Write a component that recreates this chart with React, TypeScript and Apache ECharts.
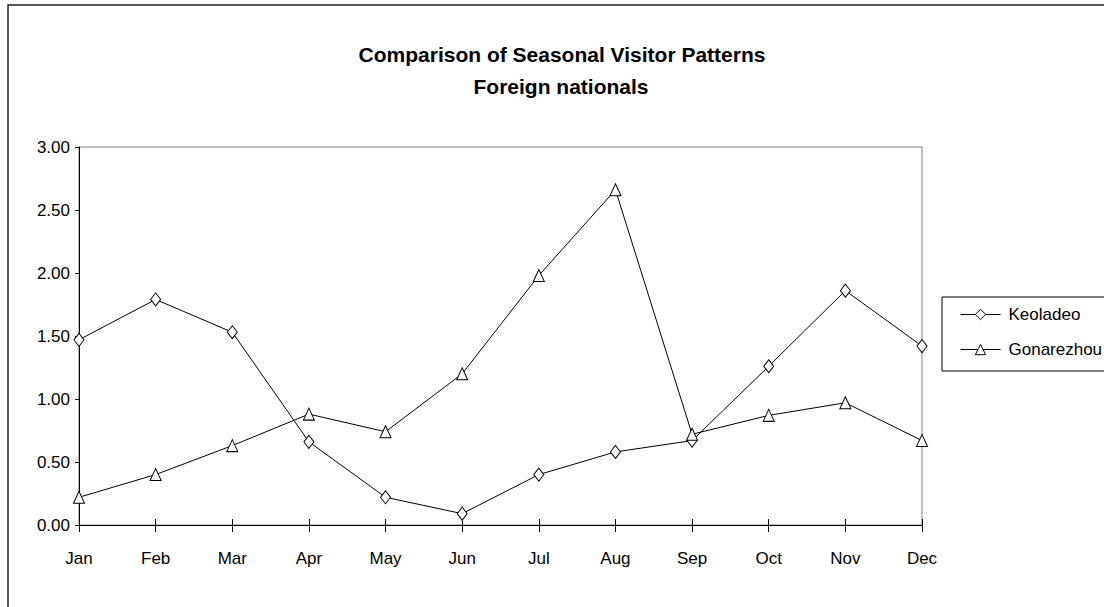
import React, { useEffect, useRef } from "react";
import * as echarts from "echarts";

const months = ["Jan", "Feb", "Mar", "Apr", "May", "Jun", "Jul", "Aug", "Sep", "Oct", "Nov", "Dec"];
const keoladeo = [1.47, 1.79, 1.53, 0.66, 0.22, 0.09, 0.4, 0.58, 0.67, 1.26, 1.86, 1.42];
const gonarezhou = [0.22, 0.4, 0.63, 0.88, 0.74, 1.2, 1.98, 2.66, 0.72, 0.87, 0.97, 0.67];
const titleLines = ["Comparison of Seasonal Visitor Patterns", "Foreign nationals"];
const seriesNames = ["Keoladeo", "Gonarezhou"];

const FONT = '"Liberation Sans", Arial, sans-serif';

export default function App() {
  const ref = useRef<HTMLDivElement>(null);
  useEffect(() => {
    if (!ref.current) return;
    const chart = echarts.init(ref.current, undefined, { renderer: "svg" });
    const lineSeries = (name: string, data: number[], symbol: string, size: number[]) => ({
      name,
      type: "line",
      data,
      xAxisIndex: 0,
      symbol,
      symbolSize: size,
      showSymbol: true,
      lineStyle: { color: "#000", width: 1 },
      itemStyle: { color: "#fff", borderColor: "#000", borderWidth: 1 },
      emphasis: { disabled: true },
    });
    chart.setOption({
      animation: false,
      backgroundColor: "#fff",
      textStyle: { fontFamily: FONT },
      graphic: [
        {
          type: "rect",
          shape: { x: 8, y: 5, width: 1200, height: 700 },
          style: { fill: "none", stroke: "#222", lineWidth: 1.5 },
          silent: true,
        },
        {
          type: "text",
          x: 562,
          y: 54,
          style: {
            text: titleLines[0],
            fontFamily: FONT,
            fontSize: 21,
            fontWeight: "bold",
            fill: "#000",
            align: "center",
            verticalAlign: "middle",
          },
        },
        {
          type: "text",
          x: 561,
          y: 86,
          style: {
            text: titleLines[1],
            fontFamily: FONT,
            fontSize: 21,
            fontWeight: "bold",
            fill: "#000",
            align: "center",
            verticalAlign: "middle",
          },
        },
      ],
      legend: {
        data: seriesNames,
        orient: "vertical",
        left: 942,
        top: 297,
        padding: [9, 40, 13, 18],
        itemGap: 18,
        itemWidth: 40,
        itemHeight: 13,
        borderColor: "#000",
        borderWidth: 1,
        backgroundColor: "#fff",
        selectedMode: false,
        lineStyle: { width: 1, color: "#000" },
        itemStyle: { color: "#fff", borderColor: "#000", borderWidth: 1 },
        textStyle: { fontFamily: FONT, fontSize: 17, color: "#000", padding: [0, 0, 0, 3] },
      },
      grid: {
        left: 79,
        right: 182,
        top: 147,
        bottom: 82,
        show: true,
        borderColor: "#808080",
        borderWidth: 1,
        backgroundColor: "#fff",
      },
      xAxis: [
        {
          type: "category",
          data: months,
          boundaryGap: false,
          axisLine: { show: true, lineStyle: { color: "#000", width: 1 } },
          axisTick: { show: true, length: 7, inside: false, lineStyle: { color: "#000" } },
          axisLabel: { color: "#000", fontSize: 17, fontFamily: FONT, margin: 25, interval: 0 },
          splitLine: { show: false },
        },
        {
          type: "category",
          data: months,
          boundaryGap: false,
          position: "bottom",
          axisLine: { show: false },
          axisTick: { show: true, length: 6, inside: true, lineStyle: { color: "#000" } },
          axisLabel: { show: false },
          splitLine: { show: false },
        },
      ],
      yAxis: {
        type: "value",
        min: 0,
        max: 3,
        interval: 0.5,
        axisLine: { show: true, lineStyle: { color: "#000", width: 1 } },
        axisTick: { show: true, length: 4, lineStyle: { color: "#000" } },
        axisLabel: {
          color: "#000",
          fontSize: 17,
          fontFamily: FONT,
          margin: 9,
          formatter: (v: number) => v.toFixed(2),
        },
        splitLine: { show: false },
      },
      series: [
        lineSeries(seriesNames[0], keoladeo, "diamond", [10, 13]),
        lineSeries(seriesNames[1], gonarezhou, "triangle", [11, 12]),
      ],
    });
    return () => chart.dispose();
  }, []);
  return (
    <div
      ref={ref}
      style={{ position: "absolute", left: 0, top: 0, width: 1104, height: 607, background: "#fff" }}
    />
  );
}
